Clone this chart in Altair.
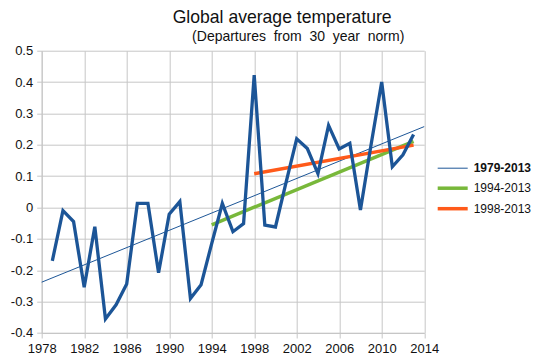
import altair as alt
import pandas as pd

# ---- data ----
years = list(range(1979, 2014))
anomaly = [-0.17, -0.01, -0.045, -0.254, -0.061, -0.355, -0.31, -0.244, 0.013, 0.013,
           -0.208, -0.021, 0.019, -0.29, -0.246, -0.115, 0.013, -0.077, -0.051, 0.422,
           -0.056, -0.062, 0.08, 0.219, 0.188, 0.108, 0.262, 0.187, 0.205, -0.008,
           0.2, 0.40, 0.130, 0.168, 0.233]

trend_names = ["1979-2013", "1994-2013", "1998-2013"]
trend_x0 = [1978, 1994, 1998]
trend_x1 = [2014, 2013, 2013]
trend_y0 = [-0.238, -0.055, 0.108]
trend_y1 = [0.258, 0.211, 0.199]
trend_colors = ["#1c5597", "#78b83a", "#ff5a1a"]
trend_widths = [1.0, 3.5, 3.5]

x_ticks = list(range(1978, 2015, 4))
y_ticks = [-0.4, -0.3, -0.2, -0.1, 0, 0.1, 0.2, 0.3, 0.4, 0.5]

# ---- tables ----
df = pd.DataFrame({"year": years, "value": anomaly})
rows = []
for n, a, b, c, d in zip(trend_names, trend_x0, trend_x1, trend_y0, trend_y1):
    rows.append({"series": n, "year": a, "value": c})
    rows.append({"series": n, "year": b, "value": d})
tdf = pd.DataFrame(rows)

FONT = "Liberation Sans"
GRID = "#c6c6c6"

xenc = alt.X("year:Q", scale=alt.Scale(domain=[1978, 2014], nice=False, zero=False),
             axis=alt.Axis(values=x_ticks, format="d", title=None, grid=True,
                           gridColor=GRID, domainColor=GRID, tickColor=GRID,
                           tickSize=5, labelPadding=5, labelFontSize=13,
                           labelOverlap=False, labelFlush=False,
                           labelColor="#111", labelFont=FONT, domain=True))
yenc = alt.Y("value:Q", scale=alt.Scale(domain=[-0.4, 0.5], nice=False, zero=False),
             axis=alt.Axis(values=y_ticks, title=None, grid=True,
                           labelExpr="datum.value == 0 ? '0' : toString(round(datum.value*10)/10)",
                           gridColor=GRID, domainColor=GRID, tickColor=GRID,
                           tickSize=5, labelPadding=4, labelFontSize=13,
                           labelOverlap=False, labelFlush=False,
                           labelColor="#111", labelFont=FONT))

trend = alt.Chart(tdf).mark_line(strokeCap="butt").encode(
    x=xenc, y=yenc, detail="series:N",
    color=alt.Color("series:N",
                    scale=alt.Scale(domain=trend_names, range=trend_colors),
                    legend=alt.Legend(
                        title=None, orient="none", legendX=400, legendY=108,
                        symbolType="M-1.667,0H1.667", symbolSize=324,
                        rowPadding=2.5, labelOffset=10, labelLimit=300,
                        labelFontSize=12, labelFont=FONT, labelColor="#111",
                        labelFontWeight=alt.ExprRef("datum.label == '1979-2013' ? 'bold' : 'normal'"),
                        padding=0)),
    strokeWidth=alt.StrokeWidth("series:N",
                                scale=alt.Scale(type="ordinal", domain=trend_names, range=trend_widths),
                                legend=None),
)

line = alt.Chart(df).mark_line(color="#1c5597", strokeWidth=3.3, strokeJoin="miter").encode(
    x=xenc, y=yenc)

chart = alt.layer(trend, line).properties(
    width=382.5, height=282.3,
    autosize=alt.AutoSizeParams(type="none"),
    padding={"left": 33.7, "top": 42.7, "right": 107, "bottom": 23},
    title=alt.Title(
        "Global average temperature",
        subtitle="\u200b" + "\u00a0" * 5 + "(Departures\u00a0 from\u00a0 30\u00a0 year\u00a0 norm)",
        anchor="start", frame="group", dx=131, offset=1,
        font=FONT, fontSize=17.6, fontWeight="normal", color="#111",
        subtitleFont=FONT, subtitleFontSize=14, subtitleColor="#111",
        subtitlePadding=3),
).configure_view(stroke=None)

chart.save("out.html", embed_options={"renderer": "svg", "actions": False})
